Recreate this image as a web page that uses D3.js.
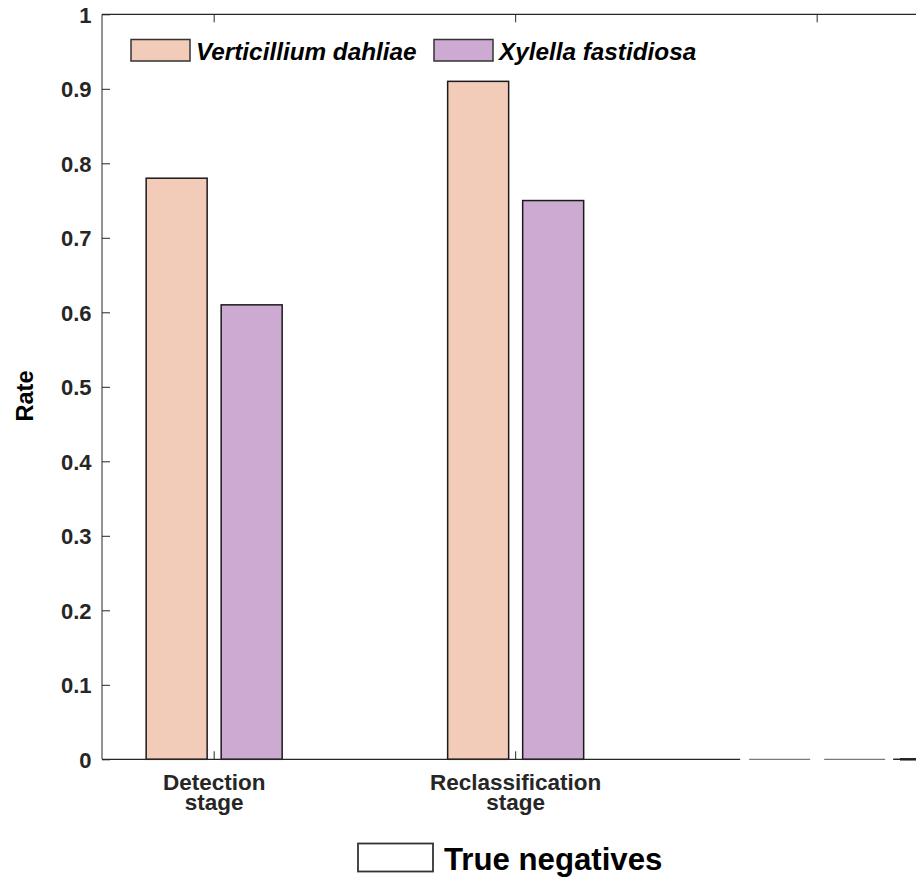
<!DOCTYPE html>
<html>
<head>
<meta charset="utf-8">
<script src="https://cdn.jsdelivr.net/npm/d3@7"></script>
<style>
  html, body { margin: 0; padding: 0; background: #fff; }
  svg { display: block; }
  text { font-family: "Liberation Sans", Arial, Helvetica, sans-serif; font-weight: bold; }
</style>
</head>
<body>
<script>
// Rates per stage for each pathogen
const stages = ["Detection\nstage", "Reclassification\nstage", ""];
const verticillium = [0.78, 0.91, 0];
const xylella = [0.61, 0.75, 0];
const seriesNames = ["Verticillium dahliae", "Xylella fastidiosa"];
const seriesColors = ["#f2cbb9", "#cdaad2"];
const yTicks = [0, 0.1, 0.2, 0.3, 0.4, 0.5, 0.6, 0.7, 0.8, 0.9, 1];
const yTickLabels = ["0", "0.1", "0.2", "0.3", "0.4", "0.5", "0.6", "0.7", "0.8", "0.9", "1"];
const bottomLegend = "True negatives";

const W = 916, H = 877;
const plotLeft = 102, plotTop = 14.3, plotBottom = 759.3;

const svg = d3.select("body").append("svg").attr("width", W).attr("height", H);

// group index 1..3 on a linear axis
const x = d3.scaleLinear().domain([0.628, 3.67]).range([plotLeft, plotLeft + 3.042 * 301.5]);
const y = d3.scaleLinear().domain([0, 1]).range([plotBottom, plotTop]);

const barW = 0.2023, offs = [-0.1244, 0.1244];
const series = [verticillium, xylella];

const ink = "#262626";

// bars
series.forEach((vals, si) => {
  svg.append("g").selectAll("rect").data(vals).enter().append("rect")
    .filter(d => d > 0)
    .attr("x", (d, i) => x(i + 1 + offs[si] - barW / 2))
    .attr("width", x(barW) - x(0))
    .attr("y", d => y(d))
    .attr("height", d => y(0) - y(d))
    .attr("fill", seriesColors[si])
    .attr("stroke", "#1a1a1a")
    .attr("stroke-width", 1.5);
});

// axes: left, top and bottom box lines with inward ticks
const yAxis = d3.axisLeft(y).tickValues(yTicks).tickFormat((d, i) => yTickLabels[i]).tickSize(-8).tickPadding(10.5);
const gy = svg.append("g").attr("transform", `translate(${plotLeft},0)`).call(yAxis);
gy.select(".domain").remove();
gy.selectAll("line").attr("stroke", ink);
gy.selectAll("text").attr("fill", ink).attr("font-size", 22)
  .attr("font-family", "Liberation Sans, Arial, sans-serif").attr("font-weight", "bold").attr("dy", "0.36em");

svg.append("line").attr("x1", plotLeft).attr("x2", plotLeft).attr("y1", plotTop).attr("y2", plotBottom).attr("stroke", ink);
svg.append("line").attr("x1", plotLeft).attr("x2", W).attr("y1", plotTop).attr("y2", plotTop).attr("stroke", ink).attr("stroke-width", 1.2);
svg.append("line").attr("x1", plotLeft).attr("x2", W).attr("y1", plotBottom).attr("y2", plotBottom).attr("stroke", ink).attr("stroke-width", 1.2);

const groups = [1, 2, 3];
svg.append("g").selectAll("line").data(groups).enter().append("line")
  .attr("x1", d => x(d)).attr("x2", d => x(d)).attr("y1", plotTop).attr("y2", plotTop + 8).attr("stroke", ink);
svg.append("g").selectAll("line").data(groups).enter().append("line")
  .attr("x1", d => x(d)).attr("x2", d => x(d)).attr("y1", plotBottom).attr("y2", plotBottom - 8).attr("stroke", ink);

// zero-height bars sit on the baseline
series.forEach((vals, si) => {
  vals.forEach((d, i) => {
    if (d > 0) return;
    const x0 = x(i + 1 + offs[si] - barW / 2), x1 = x(i + 1 + offs[si] + barW / 2);
    svg.append("rect").attr("x", x0 - 9).attr("width", x1 - x0 + 18)
      .attr("y", plotBottom - 9).attr("height", 11).attr("fill", "#fff");
    svg.append("line").attr("x1", x0).attr("x2", x1).attr("y1", y(d)).attr("y2", y(d))
      .attr("stroke", "#7a7a7a").attr("stroke-width", 1.2);
  });
});
svg.append("line").attr("x1", 893).attr("x2", W).attr("y1", plotBottom).attr("y2", plotBottom)
  .attr("stroke", ink).attr("stroke-width", 1.2);
svg.append("line").attr("x1", 900).attr("x2", W).attr("y1", plotBottom).attr("y2", plotBottom)
  .attr("stroke", "#222").attr("stroke-width", 2.5);

// category labels, one text per line
stages.forEach((s, i) => {
  s.split("\n").forEach((line, k) => {
    if (!line) return;
    svg.append("text").attr("x", x(i + 1)).attr("y", 790 + k * 20)
      .attr("text-anchor", "middle").attr("font-size", 22.5).attr("fill", ink).text(line);
  });
});

// y label
svg.append("text").attr("transform", `translate(33,396) rotate(-90)`)
  .attr("text-anchor", "middle").attr("font-size", 23.5).attr("fill", "#000").text("Rate");

// series legend
const legX = [131, 434];
seriesNames.forEach((n, i) => {
  svg.append("rect").attr("x", legX[i]).attr("y", 39.5).attr("width", 59).attr("height", 21.5)
    .attr("fill", seriesColors[i]).attr("stroke", "#333").attr("stroke-width", 1.5);
  svg.append("text").attr("x", legX[i] + 65).attr("y", 59.5).attr("font-size", 24.3)
    .attr("font-style", "italic").attr("fill", "#000").text(n);
});

// bottom legend
svg.append("rect").attr("x", 358).attr("y", 843.5).attr("width", 75).attr("height", 28)
  .attr("fill", "#fff").attr("stroke", "#333").attr("stroke-width", 1.8);
svg.append("text").attr("x", 444).attr("y", 870).attr("font-size", 31.2).attr("fill", "#000").text(bottomLegend);
</script>
</body>
</html>
